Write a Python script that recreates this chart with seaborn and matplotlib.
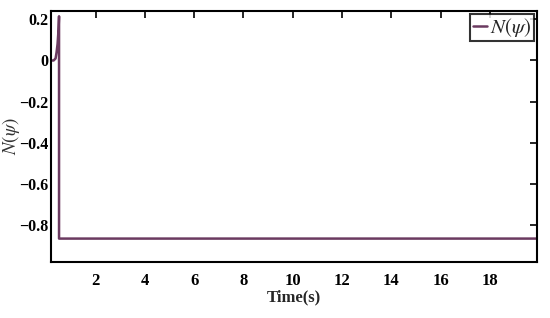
import numpy as np
import pandas as pd
import matplotlib
matplotlib.use('Agg')
import matplotlib.pyplot as plt
import seaborn as sns

# values
time = [0.2, 0.3, 0.38, 0.42, 0.46, 0.5, 0.52, 0.52, 20.0]
n_psi = [0.0, 0.0, 0.01, 0.04, 0.08, 0.15, 0.215, -0.866, -0.866]
x_ticks = [2, 4, 6, 8, 10, 12, 14, 16, 18]
y_ticks = [0.2, 0, -0.2, -0.4, -0.6, -0.8]
y_labels = ['0.2', '0', '\u22120.2', '\u22120.4', '\u22120.6', '\u22120.8']

df = pd.DataFrame({'Time': time, 'N': n_psi})

sns.set_style('white')
plt.rcParams['font.family'] = ['Liberation Serif', 'DejaVu Serif']
plt.rcParams['mathtext.fontset'] = 'stix'

fig = plt.figure(figsize=(5.5, 3.18), dpi=100)
ax = fig.add_axes([0.093, 0.176, 0.883, 0.789])

sns.lineplot(data=df, x='Time', y='N', color='#6b3a60', linewidth=1.8,
             label=r'$N(\psi)$', ax=ax, sort=False, estimator=None)

ax.set_xlim(0.2, 19.9)
ax.set_ylim(-0.98, 0.24)
ax.set_xticks(x_ticks)
ax.set_xticklabels([str(t) for t in x_ticks], fontsize=12, fontweight='bold')
ax.set_yticks(y_ticks)
ax.set_yticklabels(y_labels, fontsize=11.5, fontweight='bold')
ax.tick_params(direction='in', length=5, width=1.2, top=True, right=True,
               colors='black')
ax.tick_params(axis='x', pad=8)
ax.tick_params(axis='y', pad=2)
for s in ax.spines.values():
    s.set_visible(True)
    s.set_color('black')
    s.set_linewidth(1.5)

ax.set_xlabel('Time(s)', fontsize=12, fontweight='bold', labelpad=0)
ax.set_ylabel(r'$N(\psi)$', fontsize=13.5, color='#333333')
ax.yaxis.set_label_coords(-0.06, 0.5)

leg = ax.legend(loc='upper right', fontsize=15, frameon=True, fancybox=False,
                handlelength=0.7, handletextpad=0.15, borderpad=0.1,
                borderaxespad=0.15)
leg.get_frame().set_edgecolor('black')
leg.get_frame().set_linewidth(1.5)

fig.savefig('out.png', dpi=100)
